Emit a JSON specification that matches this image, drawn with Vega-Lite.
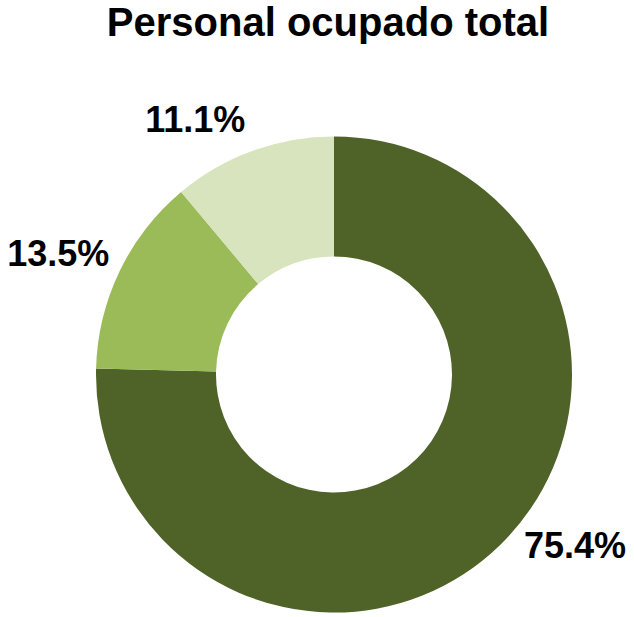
{
  "$schema": "https://vega.github.io/schema/vega-lite/v6.json",
  "width": 600,
  "height": 485,
  "autosize": {"type": "none"},
  "padding": {"left": 34, "top": 132, "right": 0, "bottom": 0},
  "background": "white",
  "title": {
    "text": "Personal ocupado total",
    "font": "Liberation Sans",
    "fontSize": 40,
    "fontWeight": "bold",
    "color": "#000000",
    "anchor": "middle",
    "frame": "group",
    "baseline": "alphabetic",
    "offset": -36,
    "dx": -6
  },
  "config": {"view": {"stroke": null}},
  "data": {
    "values": [
      {"grupo": "A", "valor": 75.4, "orden": 1, "etiqueta": "75.4%"},
      {"grupo": "B", "valor": 13.5, "orden": 2, "etiqueta": "13.5%"},
      {"grupo": "C", "valor": 11.1, "orden": 3, "etiqueta": "11.1%"}
    ]
  },
  "encoding": {
    "theta": {"field": "valor", "type": "quantitative", "stack": true},
    "order": {"field": "orden", "type": "quantitative"}
  },
  "layer": [
    {
      "mark": {"type": "arc", "outerRadius": 238, "innerRadius": 118},
      "encoding": {
        "color": {
          "field": "grupo",
          "type": "nominal",
          "scale": {"domain": ["A", "B", "C"], "range": ["#4F6228", "#9BBB59", "#D7E4BD"]},
          "legend": null
        }
      }
    },
    {
      "mark": {"type": "text", "radius": 295, "font": "Liberation Sans", "fontSize": 36, "fontWeight": "bold", "align": "center", "baseline": "alphabetic", "dx": 35, "dy": -28, "color": "#000000"},
      "encoding": {"text": {"condition": {"test": "datum.grupo === 'A'", "field": "etiqueta"}, "value": ""}}
    },
    {
      "mark": {"type": "text", "radius": 295, "font": "Liberation Sans", "fontSize": 36, "fontWeight": "bold", "align": "center", "baseline": "alphabetic", "dx": -10, "dy": 20, "color": "#000000"},
      "encoding": {"text": {"condition": {"test": "datum.grupo === 'B'", "field": "etiqueta"}, "value": ""}}
    },
    {
      "mark": {"type": "text", "radius": 295, "font": "Liberation Sans", "fontSize": 36, "fontWeight": "bold", "align": "center", "baseline": "alphabetic", "dx": -38, "dy": 35, "color": "#000000"},
      "encoding": {"text": {"condition": {"test": "datum.grupo === 'C'", "field": "etiqueta"}, "value": ""}}
    }
  ]
}
